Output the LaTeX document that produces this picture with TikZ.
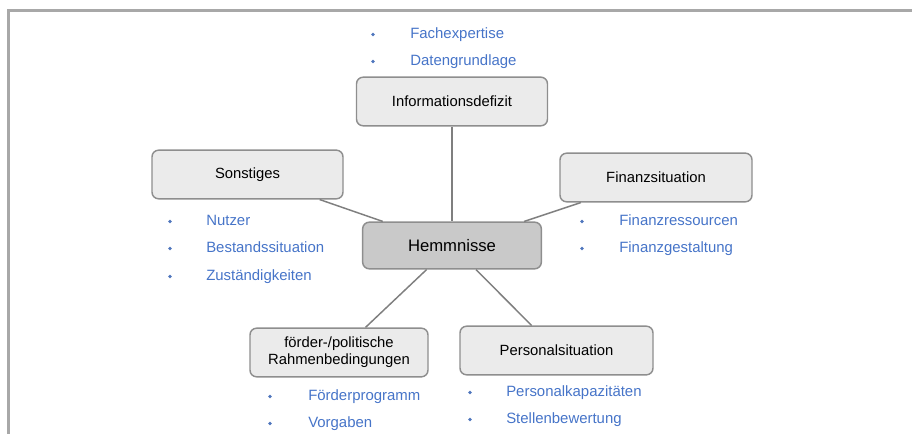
\documentclass[tikz,border=0pt]{standalone}
\usepackage{fontspec}
\setmainfont{Liberation Sans}
\definecolor{boxfill}{HTML}{EBEBEB}
\definecolor{centerfill}{HTML}{C9C9C9}
\definecolor{boxdraw}{HTML}{8E8E8E}
\definecolor{itemblue}{HTML}{4674C8}
\definecolor{framegrey}{HTML}{A8A8A8}
\definecolor{linegrey}{HTML}{7F7F7F}
\tikzset{
  topicbox/.style={draw=boxdraw, line width=1.1pt, fill=boxfill, rounded corners=5pt,
    minimum width=#1*0.75pt, minimum height=36.5pt, inner sep=0pt, align=center,
    font=\fontsize{11.1}{12.5}\selectfont},
  hubbox/.style={draw=boxdraw, line width=1.1pt, fill=centerfill, rounded corners=5pt,
    minimum width=134pt, minimum height=35pt, inner sep=0pt,
    font=\fontsize{12.5}{14}\selectfont},
  item/.style={anchor=base west, inner sep=0pt, text=itemblue, font=\fontsize{11.2}{13}\selectfont},
  dot/.style={circle, fill=itemblue!85!gray, inner sep=0pt, minimum size=2.7pt},
  link/.style={draw=linegrey, line width=1.1pt},
}
\begin{document}
\begin{tikzpicture}[x=0.75pt,y=-0.75pt]
\useasboundingbox (0,0) rectangle (912,434);
\draw[framegrey, line width=1.6pt] (8.5,434) -- (8.5,10.5) -- (912,10.5);

\node[hubbox] (hub) at (452,245.5) {Hemmnisse};
\node[topicbox=191] (info) at (452,101.5) {Informationsdefizit};
\node[topicbox=191] (sonst) at (247.5,174.5) {Sonstiges};
\node[topicbox=192] (fin) at (656,177.5) {Finanzsituation};
\node[topicbox=178] (foer) at (339,352.5) {förder-/politische\\Rahmenbedingungen};
\node[topicbox=193] (pers) at (556.5,350.5) {Personalsituation};

\draw[link] (info) -- (hub);
\draw[link] (sonst) -- (hub);
\draw[link] (fin) -- (hub);
\draw[link] (foer) -- (hub);
\draw[link] (pers) -- (hub);

% Informationsdefizit items
\node[dot] (d1) at (373,34.5) {};
\node[item] (t1) at (410,38.5) {Fachexpertise};
\node[dot] (d2) at (373,61.5) {};
\node[item] (t2) at (410,65.5) {Datengrundlage};
% Sonstiges items
\node[dot] (d3) at (170,221.5) {};
\node[item] (t3) at (206,225.5) {Nutzer};
\node[dot] (d4) at (170,248.5) {};
\node[item] (t4) at (206,252.5) {Bestandssituation};
\node[dot] (d5) at (170,276.5) {};
\node[item] (t5) at (206,280.5) {Zuständigkeiten};
% Finanzsituation items
\node[dot] (d6) at (582,221.5) {};
\node[item] (t6) at (619,225.5) {Finanzressourcen};
\node[dot] (d7) at (582,248.5) {};
\node[item] (t7) at (619,252.5) {Finanzgestaltung};
% foerder items
\node[dot] (d8) at (270,396.5) {};
\node[item] (t8) at (308,400.5) {Förderprogramm};
\node[dot] (d9) at (270,423.5) {};
\node[item] (t9) at (308,427.5) {Vorgaben};
% Personal items
\node[dot] (d10) at (470,392.5) {};
\node[item] (t10) at (506,396.5) {Personalkapazitäten};
\node[dot] (d11) at (470,419.5) {};
\node[item] (t11) at (506,423.5) {Stellenbewertung};
\end{tikzpicture}
\end{document}
